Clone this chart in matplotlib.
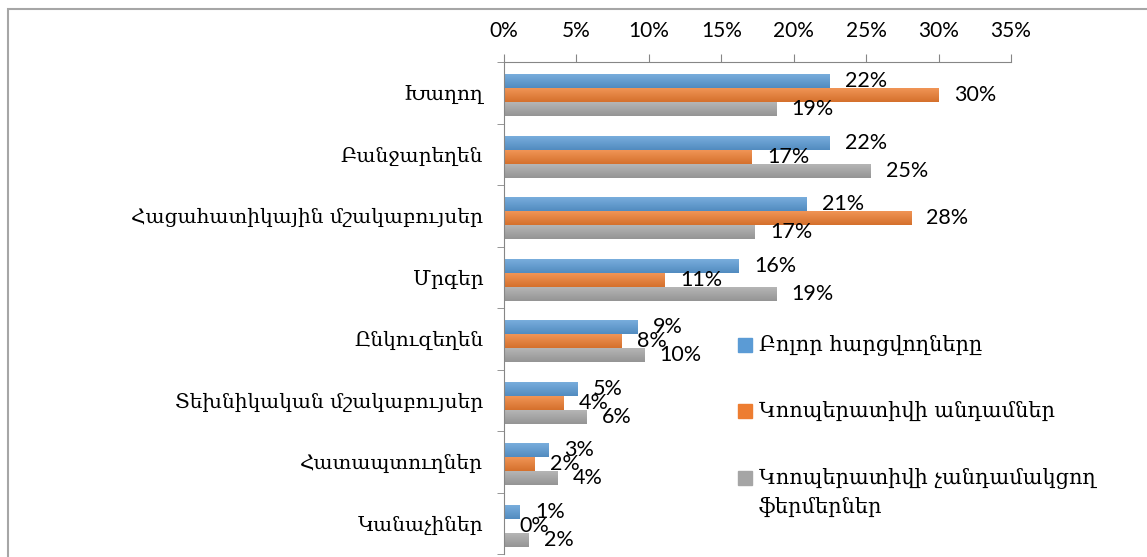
import numpy as np
import matplotlib
matplotlib.use('Agg')
import matplotlib.pyplot as plt
from matplotlib.patches import Rectangle
from matplotlib.colors import to_rgb
from matplotlib.ticker import PercentFormatter

categories = ['Խաղող', 'Բանջարեղեն', 'Հացահատիկային մշակաբույսեր', 'Մրգեր',
              'Ընկուզեղեն', 'Տեխնիկական մշակաբույսեր', 'Հատապտուղներ', 'Կանաչիներ']
series_names = ['Բոլոր հարցվողները', 'Կոոպերատիվի անդամներ',
                'Կոոպերատիվի չանդամակցող\nֆերմերներ']
all_resp = [0.225, 0.225, 0.209, 0.162, 0.092, 0.051, 0.031, 0.011]
members = [0.300, 0.171, 0.281, 0.111, 0.081, 0.041, 0.021, 0.0]
non_members = [0.188, 0.253, 0.173, 0.188, 0.097, 0.057, 0.037, 0.017]
colors = ['#5B9BD5', '#ED7D31', '#A5A5A5']

serif = ['DejaVu Serif', 'DejaVu Sans']
num_font = ['Lato', 'DejaVu Sans']


def gradient_fill(ax, bar, base):
    # excel-like shading: lighter on top, darker at the bottom
    x0, y0 = bar.get_x(), bar.get_y()
    w, hh = bar.get_width(), bar.get_height()
    if w <= 0:
        return
    c = np.array(to_rgb(base))
    top = c + (1 - c) * 0.18
    bot = c * 0.9
    g = np.linspace(0, 1, 32)[:, None, None]
    img = top * (1 - g) + bot * g
    ax.imshow(img, extent=[x0, x0 + w, y0 + hh, y0], origin='upper',
              aspect='auto', zorder=2.5, interpolation='bilinear')


fig = plt.figure(figsize=(11.47, 5.57), dpi=100)
ax = fig.add_axes([504/1147, 1-554/557, 507/1147, 492/557])

y = np.arange(len(categories))
h = 0.226
series = [all_resp, members, non_members]
for i, (vals, col) in enumerate(zip(series, colors)):
    bars = ax.barh(y + (i-1)*h + 0.04, vals, height=h, color=col, zorder=2)
    for b, v in zip(bars, vals):
        gradient_fill(ax, b, col)
        ax.annotate(f'{v*100:.0f}%', (b.get_width(), b.get_y() + b.get_height()/2),
                    xytext=(11, 0), textcoords='offset points', va='center', ha='left',
                    fontsize=15.5, family=num_font, color='black', zorder=4)

ax.set_xlim(0, 0.35)
ax.set_ylim(len(categories)-0.5, -0.5)
ax.xaxis.tick_top()
ax.set_xticks(np.arange(0, 0.351, 0.05))
ax.xaxis.set_major_formatter(PercentFormatter(1.0, decimals=0))
for lab in ax.get_xticklabels():
    lab.set_family(num_font)
ax.tick_params(axis='x', which='major', length=6, color='#868686', labelsize=15, pad=9)

ax.set_yticks(y)
ax.set_yticklabels(categories, family=serif, fontsize=14.5)
ax.tick_params(axis='y', which='major', length=0, pad=15)
ax.set_yticks(np.arange(-0.5, len(categories), 1), minor=True)
ax.tick_params(axis='y', which='minor', length=5, color='#868686')

for s in ['right', 'bottom']:
    ax.spines[s].set_visible(False)
for s in ['top', 'left']:
    ax.spines[s].set_color('#868686')
    ax.spines[s].set_zorder(3)

# legend, drawn by hand so the marker sits on the first line
W, H = 1147, 557
leg_rows = [345, 411, 478]
for name, col, yc in zip(series_names, colors, leg_rows):
    fig.patches.append(Rectangle((738/W, 1-(yc+7)/H), 14/W, 14/H,
                                 transform=fig.transFigure, color=col))
    for k, line in enumerate(name.split('\n')):
        fig.text(759/W, 1-(yc + k*29)/H, line, va='center', ha='left',
                 family=serif, fontsize=15)

fig.patches.append(Rectangle((8/W, -0.1), 1.2, 1.1 - 9/H, transform=fig.transFigure,
                             fill=False, edgecolor='#A6A6A6', linewidth=1.5))

fig.savefig('out.png', dpi=100)
